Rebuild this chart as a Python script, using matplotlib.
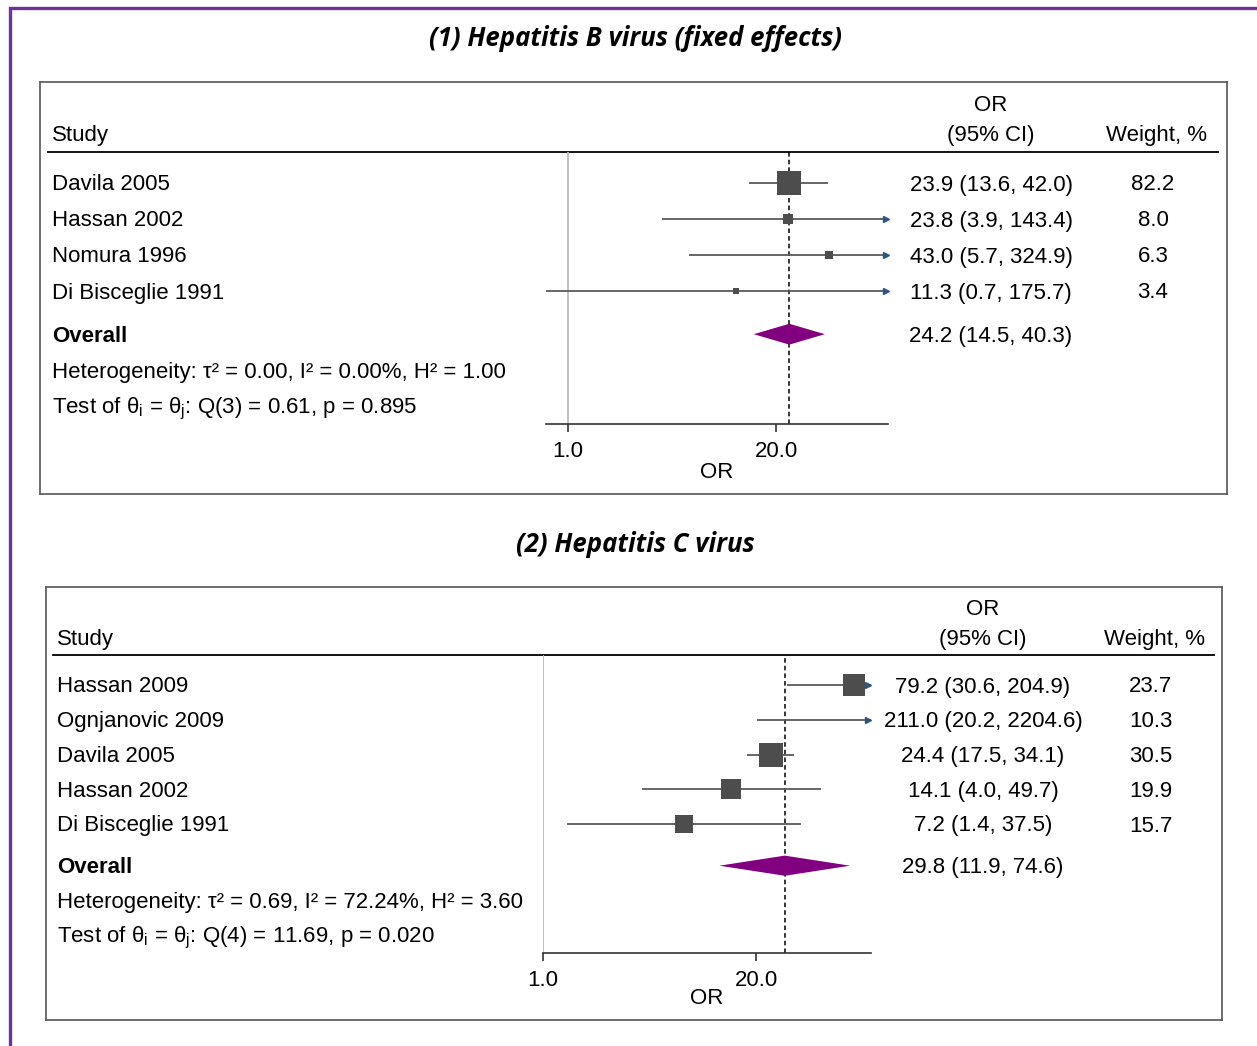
import numpy as np
import matplotlib
matplotlib.use('Agg')
import matplotlib.pyplot as plt
from matplotlib.patches import Polygon
from matplotlib.transforms import offset_copy

plt.rcParams['font.family'] = ['Liberation Sans', 'DejaVu Sans']
plt.rcParams['mathtext.fontset'] = 'custom'
plt.rcParams['mathtext.rm'] = 'Liberation Sans'
plt.rcParams['mathtext.it'] = 'Liberation Sans:italic'

W, H = 1257, 1046

# --- hepatitis B (fixed effects) ---
hbv_studies = ['Davila 2005', 'Hassan 2002', 'Nomura 1996', 'Di Bisceglie 1991']
hbv_or = [23.9, 23.8, 43.0, 11.3]
hbv_lo = [13.6, 3.9, 5.7, 0.7]
hbv_hi = [42.0, 143.4, 324.9, 175.7]
hbv_weight = [82.2, 8.0, 6.3, 3.4]
hbv_overall = [24.2, 14.5, 40.3]
hbv_het = 'Heterogeneity: τ² = 0.00, I² = 0.00%, H² = 1.00'
hbv_test = r'Test of $\mathrm{\theta_i}$ = $\mathrm{\theta_j}$: Q(3) = 0.61, p = 0.895'

# --- hepatitis C ---
hcv_studies = ['Hassan 2009', 'Ognjanovic 2009', 'Davila 2005', 'Hassan 2002', 'Di Bisceglie 1991']
hcv_or = [79.2, 211.0, 24.4, 14.1, 7.2]
hcv_lo = [30.6, 20.2, 17.5, 4.0, 1.4]
hcv_hi = [204.9, 2204.6, 34.1, 49.7, 37.5]
hcv_weight = [23.7, 10.3, 30.5, 19.9, 15.7]
hcv_overall = [29.8, 11.9, 74.6]
hcv_het = 'Heterogeneity: τ² = 0.69, I² = 72.24%, H² = 3.60'
hcv_test = r'Test of $\mathrm{\theta_i}$ = $\mathrm{\theta_j}$: Q(4) = 11.69, p = 0.020'

tick_vals = [1.0, 20.0]
tick_labels = ['1.0', '20.0']

LINE = '#595959'
BOX = '#4d4d4d'
DIAMOND = '#800080'
ARROW = '#2b5683'
FS = 16


def fig_rect(left, top, right, bottom):
    return [left / W, 1 - bottom / H, (right - left) / W, (bottom - top) / H]


def draw_panel(fig, title, studies, ors, los, his, wts, overall, het, test, lay):
    left, top, right, bottom = lay['box']
    row0, step = lay['row0'], lay['step']
    n = len(studies)
    to_row = lambda py: (py - row0) / step
    base = 7.5 / step  # baseline offset from row centre

    fig.text(lay['title_x'] / W, 1 - lay['title_y'] / H, title, ha='center', va='center',
             family='Open Sans', fontweight='bold', style='italic', fontsize=18.5)

    # table frame and text
    tab = fig.add_axes(fig_rect(left, top, right, bottom))
    tab.set_xlim(left, right)
    tab.set_ylim(to_row(bottom), to_row(top))
    tab.set_xticks([])
    tab.set_yticks([])
    for sp in tab.spines.values():
        sp.set_color('#555555')
        sp.set_linewidth(1.2)
    hdr = to_row(lay['header_y'])
    tab.plot(lay['rule_x'], [hdr, hdr], color='black', lw=1.3)

    tab.text(lay['study_x'], -1.37 + base, 'Study', fontsize=FS, va='baseline')
    tab.text(lay['ci_x'], -2.22 + base, 'OR', fontsize=FS, ha='center', va='baseline')
    tab.text(lay['ci_x'], -1.37 + base, '(95% CI)', fontsize=FS, ha='center', va='baseline')
    tab.text(lay['wt_x'] + 4, -1.37 + base, 'Weight, %', fontsize=FS, ha='center', va='baseline')

    for i in range(n):
        tab.text(lay['study_x'], i + base, studies[i], fontsize=FS, va='baseline')
        tab.text(lay['ci_x'], i + base, f'{ors[i]:.1f} ({los[i]:.1f}, {his[i]:.1f})',
                 fontsize=FS, ha='center', va='baseline')
        tab.text(lay['wt_x'], i + base, f'{wts[i]:.1f}', fontsize=FS, ha='center', va='baseline')

    ov_row = n + 0.2
    tab.text(lay['study_x'], ov_row + base, 'Overall', fontsize=FS, fontweight='bold', va='baseline')
    tab.text(lay['ci_x'], ov_row + base, f'{overall[0]:.1f} ({overall[1]:.1f}, {overall[2]:.1f})',
             fontsize=FS, ha='center', va='baseline')
    tab.text(lay['study_x'], n + 1.2 + base, het, fontsize=FS, va='baseline')
    tab.text(lay['study_x'], n + 2.2 + base, test, fontsize=FS, va='baseline')

    # forest plot on a log OR scale
    px0, px1 = lay['plot_x']
    ax = fig.add_axes(fig_rect(px0, lay['header_y'], px1, lay['axis_y']))
    ax.patch.set_alpha(0)
    ax.set_xscale('log')
    xmin, xmax = lay['xlim']
    ax.set_xlim(xmin, xmax)
    ax.set_ylim(to_row(lay['axis_y']), hdr)
    for s in ['top', 'right', 'left']:
        ax.spines[s].set_visible(False)
    ax.spines['bottom'].set_color('#333333')
    ax.spines['bottom'].set_linewidth(1.2)
    ax.set_yticks([])
    ax.set_xticks(tick_vals)
    ax.set_xticklabels(tick_labels)
    ax.xaxis.set_minor_locator(matplotlib.ticker.NullLocator())
    ax.tick_params(axis='x', length=6, width=1.2, color='#333333', labelsize=FS, pad=6)
    ax.set_xlabel('OR', fontsize=FS, labelpad=lay['xlabel_pad'])

    ax.axvline(1.0, color='#bbbbbb', lw=1.3)
    ax.axvline(overall[0], color='black', lw=1.1, ls=(0, (3, 2)))

    tip = offset_copy(ax.transData, fig=fig, x=-2.5, y=0, units='dots')
    for i in range(n):
        lo = max(los[i], xmin)
        hi = min(his[i], xmax)
        ax.plot([lo, hi], [i, i], color=LINE, lw=1.3, solid_capstyle='butt', zorder=2)
        if his[i] > xmax:
            ax.plot([xmax], [i], marker='>', ms=4.5, color=ARROW, mec=ARROW,
                    transform=tip, clip_on=False, zorder=3)
        if xmin <= ors[i] <= xmax:
            side = lay['box_base'] + lay['box_k'] * np.sqrt(wts[i])
            ax.scatter([ors[i]], [i], marker='s', s=(side * 0.72) ** 2, color=BOX, lw=0, zorder=4)

    est, lo, hi = overall
    dh = 0.29
    ax.add_patch(Polygon([[lo, ov_row], [est, ov_row - dh], [hi, ov_row], [est, ov_row + dh]],
                         closed=True, facecolor=DIAMOND, edgecolor='none', zorder=5))


fig = plt.figure(figsize=(W / 100, H / 100), dpi=100)

# purple frame on the page
frame = fig.add_axes([0, 0, 1, 1])
frame.set_xlim(0, W)
frame.set_ylim(H, 0)
frame.axis('off')
frame.plot([10, 10, W], [H, 8, 8], color='#7030a0', lw=2.4, solid_joinstyle='miter')

hbv_layout = dict(box=(40, 82, 1227, 494), row0=183, step=36, header_y=152, axis_y=424,
                  plot_x=(546, 888), xlim=(0.73, 100), rule_x=(48, 1218), study_x=52,
                  ci_x=991, wt_x=1153, title_x=635, title_y=39, box_base=2.0, box_k=2.53,
                  xlabel_pad=0.5)
hcv_layout = dict(box=(46, 587, 1222, 1020), row0=685, step=34.75, header_y=655, axis_y=953,
                  plot_x=(543, 871), xlim=(1.0, 100), rule_x=(53, 1214), study_x=57,
                  ci_x=983, wt_x=1151, title_x=635, title_y=545, box_base=3.5, box_k=3.65,
                  xlabel_pad=-2)

draw_panel(fig, '(1) Hepatitis B virus (fixed effects)', hbv_studies, hbv_or, hbv_lo, hbv_hi,
           hbv_weight, hbv_overall, hbv_het, hbv_test, hbv_layout)
draw_panel(fig, '(2) Hepatitis C virus', hcv_studies, hcv_or, hcv_lo, hcv_hi,
           hcv_weight, hcv_overall, hcv_het, hcv_test, hcv_layout)

fig.savefig('out.png', dpi=100)
